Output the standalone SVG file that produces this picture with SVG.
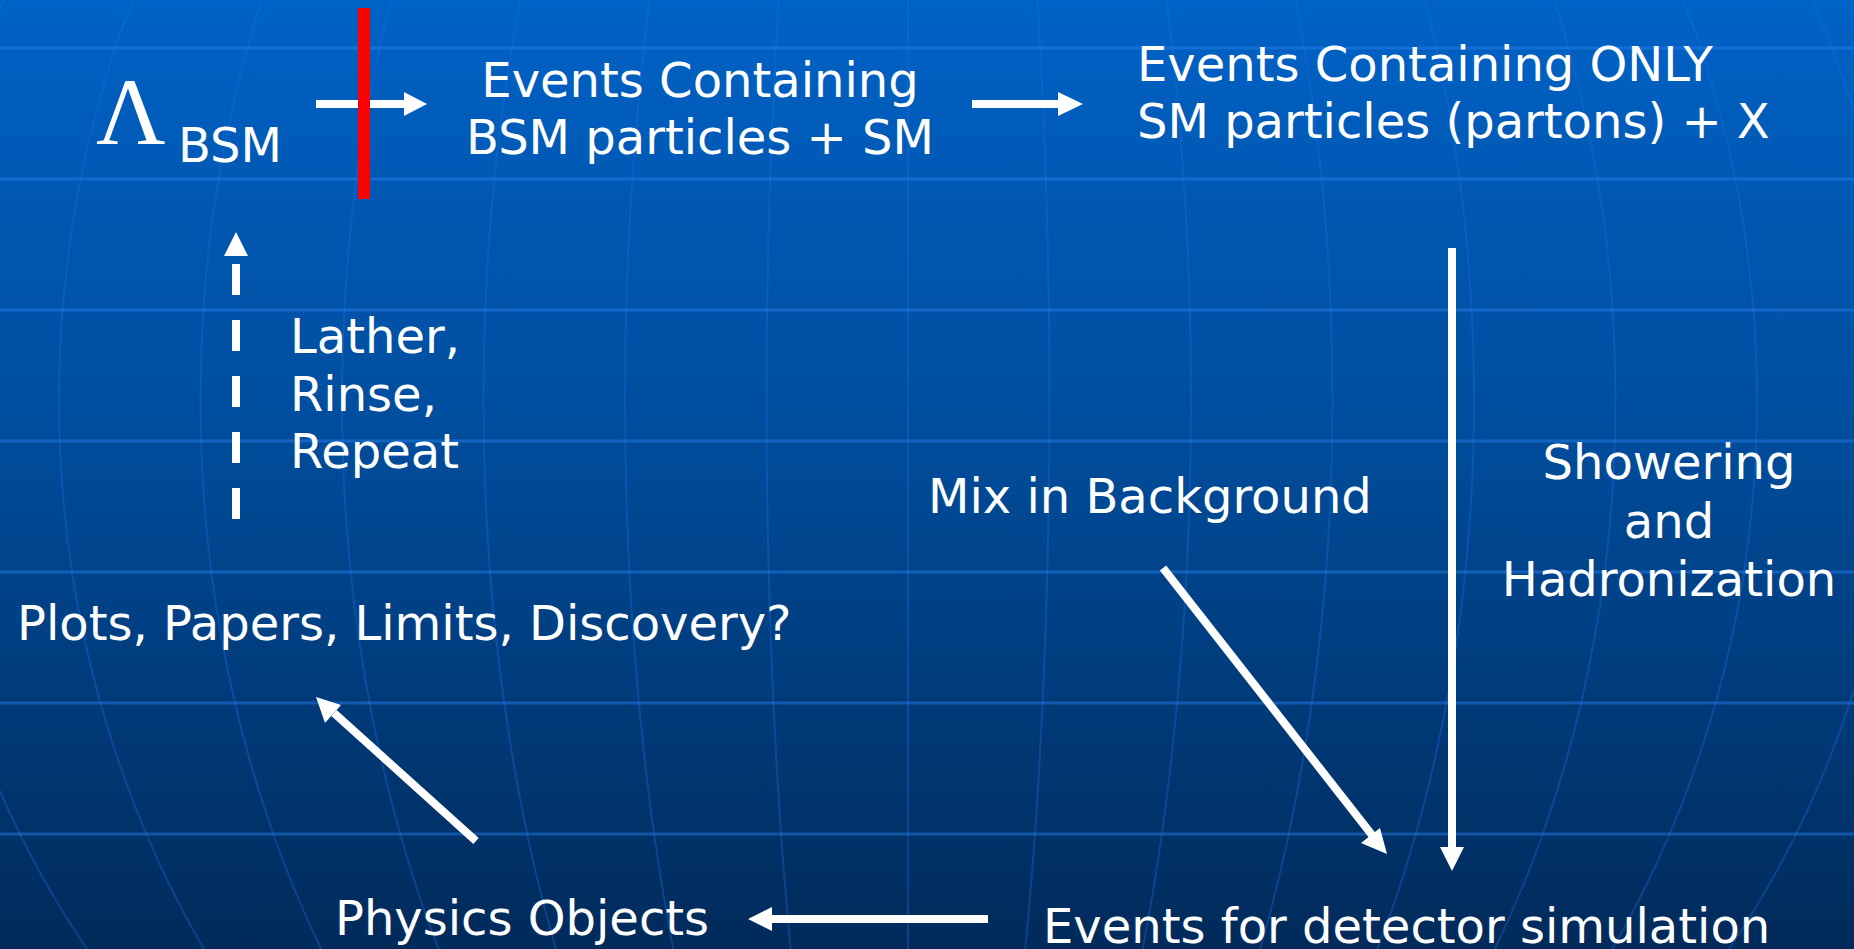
<svg xmlns="http://www.w3.org/2000/svg" width="1854" height="949" viewBox="0 0 1854 949">
<defs>
<linearGradient id="bg" x1="0" y1="0" x2="0" y2="1">
<stop offset="0" stop-color="#0062c6"/>
<stop offset="0.45" stop-color="#004d9d"/>
<stop offset="1" stop-color="#012a5a"/>
</linearGradient>
<style>
.t{font-family:"DejaVu Sans","Liberation Sans",sans-serif;font-size:48px;fill:#ffffff}
.lam{font-family:"Liberation Serif","DejaVu Serif",serif;font-size:96px;fill:#ffffff}
.hl{stroke:#2a82f0;stroke-opacity:0.45;stroke-width:3}
.mer{fill:none;stroke:#1e6ee6;stroke-opacity:0.35;stroke-width:2}
.ln{stroke:#ffffff;stroke-width:8;fill:none}
.hd{fill:#ffffff}
</style>
</defs>
<g id="background">
<rect x="0" y="0" width="1854" height="949" fill="url(#bg)"/>
<g id="meridians">
<line class="mer" x1="908" y1="0" x2="908" y2="949"/>
<ellipse class="mer" cx="908" cy="400" rx="141.5" ry="982"/>
<ellipse class="mer" cx="908" cy="400" rx="283" ry="982"/>
<ellipse class="mer" cx="908" cy="400" rx="424.5" ry="982"/>
<ellipse class="mer" cx="908" cy="400" rx="566" ry="982"/>
<ellipse class="mer" cx="908" cy="400" rx="707.5" ry="982"/>
<ellipse class="mer" cx="908" cy="400" rx="849" ry="982"/>
<ellipse class="mer" cx="908" cy="400" rx="990" ry="982"/>
</g>
<g id="parallels">
<line class="hl" x1="0" y1="48" x2="1854" y2="48"/>
<line class="hl" x1="0" y1="179" x2="1854" y2="179"/>
<line class="hl" x1="0" y1="310" x2="1854" y2="310"/>
<line class="hl" x1="0" y1="441" x2="1854" y2="441"/>
<line class="hl" x1="0" y1="572" x2="1854" y2="572"/>
<line class="hl" x1="0" y1="703" x2="1854" y2="703"/>
<line class="hl" x1="0" y1="834" x2="1854" y2="834"/>
</g>
</g>
<g id="connectors">
<line class="ln" x1="316" y1="104" x2="405" y2="104"/>
<polygon class="hd" points="427,104 404,92 404,116"/>
<line class="ln" x1="972" y1="104" x2="1059" y2="104"/>
<polygon class="hd" points="1083,104 1058,92 1058,116"/>
<line class="ln" x1="236" y1="519" x2="236" y2="264" stroke-dasharray="31 25"/>
<polygon class="hd" points="236,232 248,256 224,256"/>
<line class="ln" x1="1452" y1="248" x2="1452" y2="849" stroke-width="7"/>
<polygon class="hd" points="1452,871 1440,847 1464,847"/>
<line class="ln" x1="1163" y1="568" x2="1372" y2="835"/>
<polygon class="hd" points="1387,854 1361,843 1380,828"/>
<line class="ln" x1="476" y1="841" x2="334" y2="713"/>
<polygon class="hd" points="316,697 341,705 325,723"/>
<line class="ln" x1="988" y1="919" x2="770" y2="919"/>
<polygon class="hd" points="748,919 772,907 772,931"/>
</g>
<g id="barrier">
<rect x="358" y="8" width="12" height="191" fill="#ff0000"/>
</g>
<g id="node-lambda">
<text class="lam" x="96" y="144">Λ</text>
<text class="t" x="178" y="162">BSM</text>
</g>
<g id="node-bsm-events">
<text class="t" x="700" y="97" text-anchor="middle">Events Containing</text>
<text class="t" x="700" y="154" text-anchor="middle">BSM particles + SM</text>
</g>
<g id="node-sm-events">
<text class="t" x="1137" y="81">Events Containing ONLY</text>
<text class="t" x="1137" y="138">SM particles (partons) + X</text>
</g>
<g id="label-repeat">
<text class="t" x="290" y="353">Lather,</text>
<text class="t" x="290" y="411">Rinse,</text>
<text class="t" x="290" y="468">Repeat</text>
</g>
<g id="node-plots">
<text class="t" x="17" y="640">Plots, Papers, Limits, Discovery?</text>
</g>
<g id="label-background">
<text class="t" x="928" y="513">Mix in Background</text>
</g>
<g id="label-showering">
<text class="t" x="1669" y="479" text-anchor="middle">Showering</text>
<text class="t" x="1669" y="538" text-anchor="middle">and</text>
<text class="t" x="1669" y="596" text-anchor="middle">Hadronization</text>
</g>
<g id="node-physics">
<text class="t" x="335" y="935">Physics Objects</text>
</g>
<g id="node-detector">
<text class="t" x="1043" y="943">Events for detector simulation</text>
</g>
</svg>
